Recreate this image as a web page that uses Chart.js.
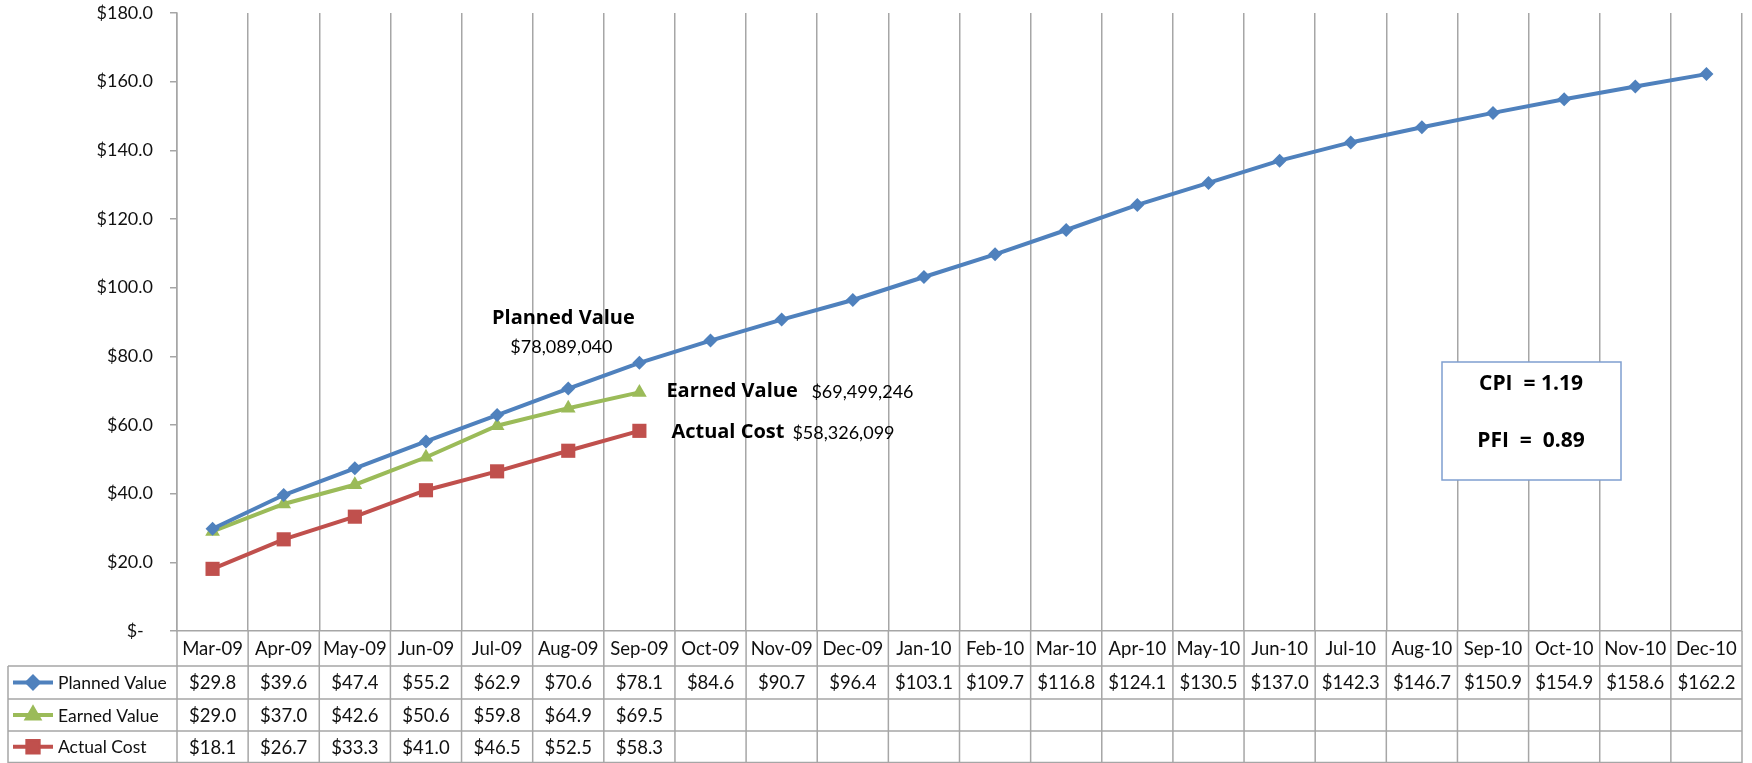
<!DOCTYPE html>
<html>
<head>
<meta charset="utf-8">
<script src="https://cdn.jsdelivr.net/npm/chart.js@4"></script>
<style>
  body { margin: 0; background: #fff; }
  #wrap { width: 1752px; height: 763px; }
</style>
</head>
<body>
<div id="wrap"><canvas id="evChart" width="1752" height="763"></canvas></div>
<script>
const months = ['Mar-09', 'Apr-09', 'May-09', 'Jun-09', 'Jul-09', 'Aug-09', 'Sep-09', 'Oct-09', 'Nov-09', 'Dec-09', 'Jan-10',
  'Feb-10', 'Mar-10', 'Apr-10', 'May-10', 'Jun-10', 'Jul-10', 'Aug-10', 'Sep-10', 'Oct-10', 'Nov-10', 'Dec-10'];
const plannedValue = [29.8, 39.6, 47.4, 55.2, 62.9, 70.6, 78.1, 84.6, 90.7, 96.4, 103.1, 109.7, 116.8, 124.1, 130.5, 137.0, 142.3, 146.7, 150.9, 154.9, 158.6, 162.2];
const earnedValue = [29.0, 37.0, 42.6, 50.6, 59.8, 64.9, 69.5];
const actualCost = [18.1, 26.7, 33.3, 41.0, 46.5, 52.5, 58.3];
const yTicks = [0, 20, 40, 60, 80, 100, 120, 140, 160, 180];

const blue = '#4f81bd', green = '#9bbb59', red = '#c0504d';
const gridCol = '#a6a6a6';
const font = 'Lato, "Noto Sans", sans-serif';
const boldFont = '"Open Sans", Lato, sans-serif';

const series = [
  { name: 'Planned Value', data: plannedValue, color: blue, style: 'rectRot', r: 7 },
  { name: 'Earned Value', data: earnedValue, color: green, style: 'triangle', r: 8.5 },
  { name: 'Actual Cost', data: actualCost, color: red, style: 'rect', r: 10 }
];

function money(v) {
  return '$' + v.toFixed(1);
}

// draws the data table, the call-outs and the CPI box
const extras = {
  id: 'extras',
  afterDraw(chart) {
    const ctx = chart.ctx;
    const x = chart.scales.x, y = chart.scales.y;
    const area = chart.chartArea;
    const half = (x.getPixelForValue(1) - x.getPixelForValue(0)) / 2;
    const rows = [area.bottom, 666, 699, 731, 762.5];
    const left = 8;
    ctx.save();
    ctx.strokeStyle = gridCol;
    ctx.lineWidth = 1.5;
    ctx.beginPath();
    for (let i = 0; i <= months.length; i++) {
      const bx = x.getPixelForValue(0) - half + i * half * 2;
      ctx.moveTo(bx, area.bottom);
      ctx.lineTo(bx, 763);
    }
    for (let r = 1; r < rows.length; r++) {
      ctx.moveTo(left, rows[r]);
      ctx.lineTo(area.right, rows[r]);
    }
    ctx.moveTo(left, rows[1]);
    ctx.lineTo(left, 763);
    ctx.stroke();

    ctx.fillStyle = '#111';
    ctx.textAlign = 'center';
    ctx.textBaseline = 'middle';
    ctx.font = '18.5px ' + font;
    months.forEach((m, i) => ctx.fillText(m, x.getPixelForValue(i), (rows[0] + rows[1]) / 2 + 1));
    series.forEach((s, r) => {
      const cy = (rows[r + 1] + rows[r + 2]) / 2 + 1;
      ctx.font = '18.5px ' + font;
      ctx.textAlign = 'center';
      s.data.forEach((v, i) => ctx.fillText(money(v), x.getPixelForValue(i), cy));
      // legend key
      ctx.strokeStyle = s.color;
      ctx.lineWidth = 4;
      ctx.beginPath();
      ctx.moveTo(13, cy - 1);
      ctx.lineTo(53, cy - 1);
      ctx.stroke();
      Chart.helpers.drawPoint(ctx, { pointStyle: s.style, radius: s.r * 0.8, borderWidth: 1 }, 33, cy - 1);
      ctx.fillStyle = s.color;
      ctx.fill();
      ctx.fillStyle = '#111';
      ctx.textAlign = 'left';
      ctx.font = '17.5px ' + font;
      ctx.fillText(s.name, 58, cy);
    });

    // call-outs next to the last actuals
    const last = earnedValue.length - 1;
    const lx = x.getPixelForValue(last);
    ctx.fillStyle = '#000';
    ctx.textAlign = 'center';
    ctx.font = 'bold 20px ' + boldFont;
    ctx.fillText('Planned Value', lx - 76, y.getPixelForValue(plannedValue[last]) - 45);
    ctx.font = '18px ' + font;
    ctx.fillText('$78,089,040', lx - 78, y.getPixelForValue(plannedValue[last]) - 16);
    ctx.textAlign = 'left';
    ctx.font = 'bold 20px ' + boldFont;
    ctx.fillText('Earned Value', lx + 27, y.getPixelForValue(earnedValue[last]) - 1);
    ctx.fillText('Actual Cost', lx + 32, y.getPixelForValue(actualCost[last]) + 1);
    ctx.font = '18px ' + font;
    ctx.fillText('$69,499,246', lx + 172, y.getPixelForValue(earnedValue[last]));
    ctx.fillText('$58,326,099', lx + 153, y.getPixelForValue(actualCost[last]) + 2);

    // index box
    ctx.fillStyle = '#fff';
    ctx.fillRect(1442, 362, 179, 118);
    ctx.strokeStyle = '#7f9fd0';
    ctx.lineWidth = 1.5;
    ctx.strokeRect(1442, 362, 179, 118);
    ctx.fillStyle = '#000';
    ctx.textAlign = 'center';
    ctx.font = 'bold 21px ' + boldFont;
    ctx.fillText('CPI  = 1.19', 1531, 384);
    ctx.fillText('PFI  =  0.89', 1531, 441);
    ctx.restore();
  }
};

new Chart(document.getElementById('evChart'), {
  type: 'line',
  data: {
    labels: months,
    datasets: series.map(s => ({
      label: s.name,
      data: s.data,
      borderColor: s.color,
      backgroundColor: s.color,
      borderWidth: 4,
      pointStyle: s.style,
      pointRadius: s.r,
      pointBorderWidth: 0,
      tension: 0
    }))
  },
  options: {
    responsive: false,
    animation: false,
    layout: { padding: { top: 13, right: 2, bottom: 132, left: 0 } },
    plugins: { legend: { display: false }, tooltip: { enabled: false } },
    scales: {
      x: {
        offset: true,
        grid: { offset: true, color: gridCol, lineWidth: 1.5, drawTicks: false },
        border: { color: gridCol, width: 1.5 },
        ticks: { display: false }
      },
      y: {
        min: 0,
        max: 180,
        afterBuildTicks: s => { s.ticks = yTicks.map(v => ({ value: v })); },
        afterFit: s => { s.width = 177; s.paddingTop = 0; s.paddingBottom = 0; },
        grid: { drawOnChartArea: false, drawTicks: true, tickLength: 7, color: gridCol, lineWidth: 1.5 },
        border: { color: gridCol, width: 1.5 },
        ticks: {
          padding: 17,
          color: '#111',
          font: { family: font, size: 18 },
          callback: v => v === 0 ? '$-  ' : money(v)
        }
      }
    }
  },
  plugins: [extras]
});
</script>
</body>
</html>
